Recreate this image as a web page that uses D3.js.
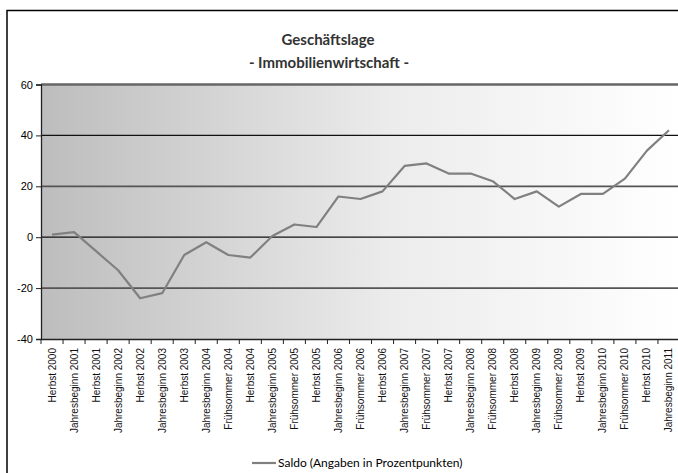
<!DOCTYPE html>
<html><head><meta charset="utf-8">
<script src="https://cdn.jsdelivr.net/npm/d3@7"></script>
<style>body{margin:0;background:#fff;}svg{display:block;}</style>
</head><body>
<svg id="c" width="678" height="473"></svg>
<script>
const categories = ["Herbst 2000","Jahresbeginn 2001","Herbst 2001","Jahresbeginn 2002","Herbst 2002","Jahresbeginn 2003","Herbst 2003","Jahresbeginn 2004","Frühsommer 2004","Herbst 2004","Jahresbeginn 2005","Frühsommer 2005","Herbst 2005","Jahresbeginn 2006","Frühsommer 2006","Herbst 2006","Jahresbeginn 2007","Frühsommer 2007","Herbst 2007","Jahresbeginn 2008","Frühsommer 2008","Herbst 2008","Jahresbeginn 2009","Frühsommer 2009","Herbst 2009","Jahresbeginn 2010","Frühsommer 2010","Herbst 2010","Jahresbeginn 2011"];
const saldo = [1,2,-5.5,-13,-24,-22,-7,-2,-7,-8,0.5,5,4,16,15,18,28,29,25,25,22,15,18,12,17,17,23,34,42];
const yTicks = [-40,-20,0,20,40,60];
const titleLines = ["Geschäftslage","- Immobilienwirtschaft -"];
const legendLabel = "Saldo (Angaben in Prozentpunkten)";

const svg = d3.select("#c");
const L = 41, R = 680, T = 84.5, B = 339;
const x = d3.scaleBand().domain(categories).range([L, R]);
const y = d3.scaleLinear().domain([-40, 60]).range([B, T]);

// outer border
svg.append("rect").attr("x",7).attr("y",10.5).attr("width",720).attr("height",520)
  .attr("fill","none").attr("stroke","#000").attr("stroke-width",1.5);

// gradient background
const defs = svg.append("defs");
const g = defs.append("linearGradient").attr("id","bg").attr("x1","0").attr("x2","1").attr("y1","0").attr("y2","0");
g.append("stop").attr("offset","0").attr("stop-color","#bdbdbd");
g.append("stop").attr("offset","0.55").attr("stop-color","#ececec");
g.append("stop").attr("offset","1").attr("stop-color","#ffffff");
svg.append("rect").attr("x",L).attr("y",T).attr("width",R-L).attr("height",B-T).attr("fill","url(#bg)");

// gridlines
yTicks.filter(v=>v>-40).forEach(v=>{
  const dark = (v===0||v===40);
  svg.append("line").attr("x1",L).attr("x2",R).attr("y1",y(v)).attr("y2",y(v))
    .attr("stroke", v===60 ? "#666" : (dark ? "#111" : "#555"))
    .attr("stroke-width", v===60 ? 2.5 : (dark ? 1.3 : 1.8));
});

// y axis
const yAxis = d3.axisLeft(y).tickValues(yTicks).tickSize(5).tickPadding(3).tickFormat(d=>String(d));
const ya = svg.append("g").attr("transform",`translate(${L},0)`).call(yAxis);
ya.select(".domain").attr("stroke","#222").attr("stroke-width",1.3);
ya.selectAll(".tick line").attr("stroke","#222");
ya.selectAll("text").attr("font-family","Liberation Sans, Arial, sans-serif").attr("font-size","11px").attr("fill","#000");

// x axis
const xa = svg.append("g").attr("transform",`translate(0,${B})`).call(d3.axisBottom(x).tickSize(0));
xa.select(".domain").attr("stroke","#222").attr("stroke-width",1.3);
xa.selectAll(".tick text")
  .attr("font-family","Liberation Sans, Arial, sans-serif").attr("font-size","10px").attr("fill","#111")
  .attr("text-anchor","end").attr("transform","rotate(-90)")
  .attr("x",-9).attr("y",0).attr("dy","0.35em");
// boundary ticks
const bounds = categories.map(c=>x(c)).concat([R]);
svg.append("g").selectAll("line").data(bounds).join("line")
  .attr("x1",d=>d).attr("x2",d=>d).attr("y1",B).attr("y2",B+5)
  .attr("stroke","#222").attr("stroke-width",1);

// line
const line = d3.line().x((d,i)=>x(categories[i])+x.bandwidth()/2).y(d=>y(d));
svg.append("path").datum(saldo).attr("d",line).attr("fill","none")
  .attr("stroke","#808080").attr("stroke-width",2.2).attr("stroke-linejoin","round");

// title
svg.append("text").attr("x",328).attr("y",45).attr("text-anchor","middle")
  .attr("font-family","Lato, sans-serif").attr("font-weight","bold").attr("font-size","15px").attr("fill","#333").text(titleLines[0]);
svg.append("text").attr("x",329).attr("y",68).attr("text-anchor","middle")
  .attr("font-family","Lato, sans-serif").attr("font-weight","bold").attr("font-size","15px").attr("fill","#333").text(titleLines[1]);

// legend
svg.append("line").attr("x1",252).attr("x2",276).attr("y1",463).attr("y2",463).attr("stroke","#808080").attr("stroke-width",2.2);
svg.append("text").attr("x",278).attr("y",467).attr("font-family","Lato, sans-serif").attr("font-size","12px").attr("fill","#000").text(legendLabel);
</script>
</body></html>
